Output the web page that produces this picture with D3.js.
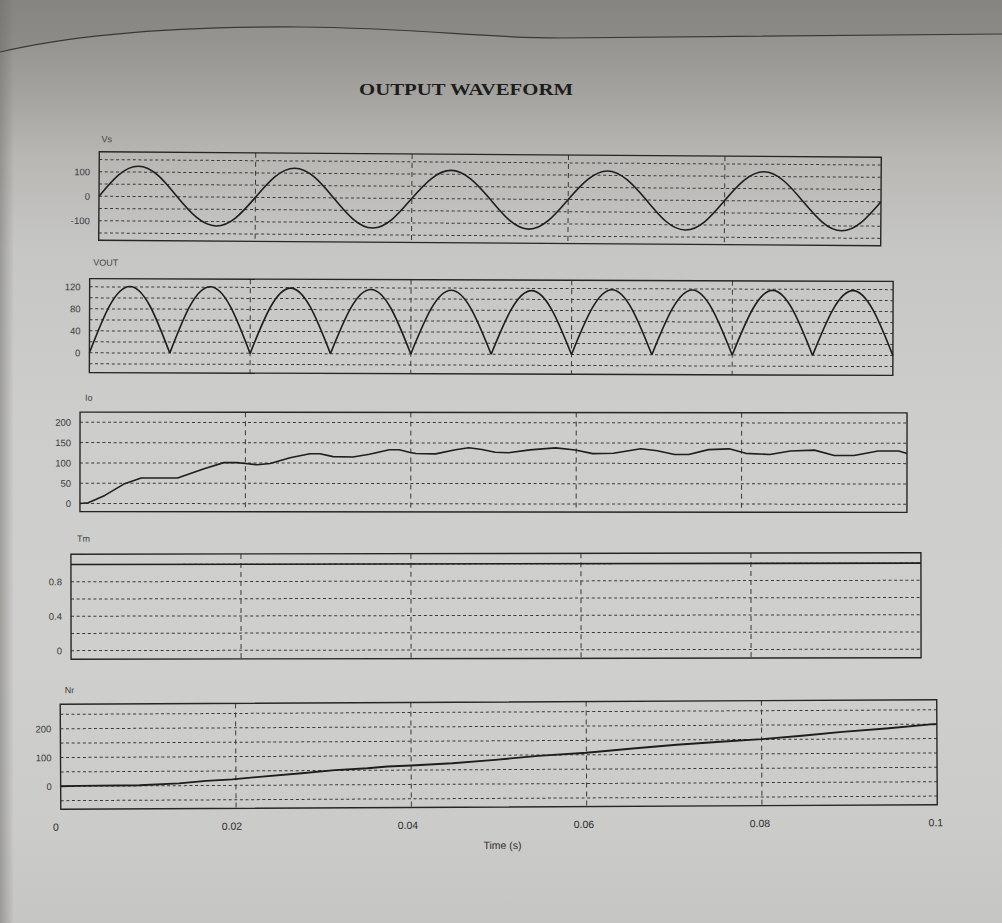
<!DOCTYPE html>
<html><head><meta charset="utf-8">
<script src="https://cdn.jsdelivr.net/npm/d3@7"></script>
<style>html,body{margin:0;padding:0;background:#c8c8c6;overflow:hidden}</style>
</head><body>
<svg id="c" width="1002" height="923"></svg>
<script>
// ---------- DATA (time in ms) ----------
const sineTime = [0,2.5,5,7.5,10,12.5,15,17.5,20,22.5,25,27.5,30,32.5,35,37.5,40,42.5,45,47.5,50,52.5,55,57.5,60,62.5,65,67.5,70,72.5,75,77.5,80,82.5,85,87.5,90,92.5,95,97.5,100];
const vsValues = [0,88,124,88,0,-84,-118,-84,0,85,120,85,0,-86,-122,-86,0,82,116,82,0,-86,-122,-86,0,83,118,83,0,-86,-121,-86,0,84,119,84,0,-85,-120,-85,0];
const voutValues = [0,86,121,86,0,86,121,86,0,84,119,84,0,83,117,83,0,82,116,82,0,82,116,82,0,83,118,83,0,83,118,83,0,83,118,83,0,83,118,83,0];
const ioTime = [0,1,3,5.4,7.4,11.8,15,17.4,19,20,21.4,23,25.4,27.8,29,30.6,33,35,37.4,38.6,39.8,40.6,43,45.4,47,48.6,50.2,51.8,54.4,57.5,59.9,62,64.5,67.8,69.8,71.9,73.6,76,78.5,80.5,83.4,85.9,88.8,91.2,93.6,96.5,99,100];
const ioValues = [0,2,20,49,63,63,86,101,101,99,96,99,113,123,123,116,115,122,133,133,127,124,123,133,138,134,127,126,133,138,133,124,125,136,131,122,122,134,136,125,122,131,133,120,120,131,131,125];
const tmTime = [0,100];
const tmValues = [1,1];
const nrTime = [0,2,9,13.5,16.6,19.6,23,27.5,31.3,35,37.3,40,44.7,49.6,54.5,60,65.3,70.3,75.3,80,84.6,89.2,94.2,99.6,100];
const nrValues = [0,1,2,8,16,21,30,41,51,57,63,66,73,84,97,107,121,133,143,151,162,175,186,200,200];

const vsTicks = [-100,0,100];
const voutTicks = [0,40,80,120];
const ioTicks = [0,50,100,150,200];
const tmTicks = [0,0.4,0.8];
const nrTicks = [0,100,200];
const timeTicks = [0,0.02,0.04,0.06,0.08,0.1];
const vGridTimes = [20,40,60,80];

const vsGrid = [-150,-100,-50,0,50,100,150];
const voutGrid = [-20,0,20,40,60,80,100,120];
const ioGrid = [0,50,100,150,200];
const tmGrid = [0,0.2,0.4,0.6,0.8,1.0];
const nrGrid = [-50,0,50,100,150,200,250];

// ---------- LAYOUT ----------
const svg = d3.select('#c');
const defs = svg.append('defs');
const grad = defs.append('linearGradient').attr('id','bg').attr('x1',0).attr('y1',0).attr('x2',0).attr('y2',1);
[[0,'#8e8c88'],[0.05,'#979591'],[0.1,'#a3a29e'],[0.17,'#b8b7b4'],[0.27,'#c6c6c4'],[0.45,'#cdcdcb'],[0.7,'#cfcfcd'],[0.9,'#cbcbc9'],[1,'#c5c5c3']]
  .forEach(([o,c])=>grad.append('stop').attr('offset',o).attr('stop-color',c));
svg.append('rect').attr('width',1002).attr('height',923).attr('fill','url(#bg)');
// left page shadow
const lg = defs.append('linearGradient').attr('id','lsh').attr('x1',0).attr('y1',0).attr('x2',1).attr('y2',0);
lg.append('stop').attr('offset',0).attr('stop-color','#6f6d6a').attr('stop-opacity',0.5);
lg.append('stop').attr('offset',1).attr('stop-color','#6f6d6a').attr('stop-opacity',0);
svg.append('rect').attr('width',14).attr('height',923).attr('fill','url(#lsh)');
// paper edge at top of photo
svg.append('path').attr('d','M0,52 C60,38 150,26 300,27 C420,28 480,38 560,38 C700,37 850,35 1002,34 L1002,0 L0,0 Z').attr('fill','#6a6865').attr('opacity',0.2);
svg.append('path').attr('d','M0,52 C60,38 150,26 300,27 C420,28 480,38 560,38 C700,37 850,35 1002,34').attr('fill','none').attr('stroke','#3a3836').attr('stroke-width',1.2);

svg.append('text').attr('x',466).attr('y',95).attr('text-anchor','middle')
  .attr('font-family','"Liberation Serif","Times New Roman",serif').attr('font-weight','bold')
  .attr('font-size',17).attr('textLength',214).attr('lengthAdjust','spacingAndGlyphs')
  .attr('fill','#1c1c1c').text('OUTPUT WAVEFORM');

const panels = [
  {name:'Vs', t:sineTime, v:vsValues, ticks:vsTicks, grid:vsGrid, domain:[-180,182], x0:99, x1:881, y0:154.5, y1:243, rot:0.4, lx:101, ly:145, mode:'natural'},
  {name:'VOUT', t:sineTime, v:voutValues, ticks:voutTicks, grid:voutGrid, domain:[-36,135], x0:89.5, x1:893, y0:280, y1:374, rot:0.2, lx:93, ly:267, mode:'segments'},
  {name:'Io', t:ioTime, v:ioValues, ticks:ioTicks, grid:ioGrid, domain:[-20,225], x0:80, x1:907, y0:412.5, y1:512, rot:0.05, lx:85, ly:401, mode:'linear'},
  {name:'Tm', t:tmTime, v:tmValues, ticks:tmTicks, grid:tmGrid, domain:[-0.1,1.12], x0:71, x1:921, y0:553.5, y1:658.5, rot:-0.1, lx:77, ly:541, mode:'linear'},
  {name:'Nr', t:nrTime, v:nrValues, ticks:nrTicks, grid:nrGrid, domain:[-80,285], x0:60.5, x1:937, y0:702, y1:807, rot:-0.3, lx:65, ly:691, mode:'linear'}
];

const sans = '"Liberation Sans",Arial,sans-serif';
let lastGroup = null;
panels.forEach(p=>{
  const cx=(p.x0+p.x1)/2, cy=(p.y0+p.y1)/2;
  const g = svg.append('g').attr('transform',`rotate(${p.rot},${cx},${cy})`);
  const x = d3.scaleLinear().domain([0,100]).range([p.x0,p.x1]);
  const y = d3.scaleLinear().domain(p.domain).range([p.y1,p.y0]);
  g.selectAll('line.hg').data(p.grid).join('line').attr('class','hg')
    .attr('x1',p.x0).attr('x2',p.x1).attr('y1',d=>y(d)).attr('y2',d=>y(d))
    .attr('stroke','#3a3a3a').attr('stroke-width',1).attr('stroke-dasharray','3,2.6');
  g.selectAll('line.vg').data(vGridTimes).join('line').attr('class','vg')
    .attr('x1',d=>x(d)).attr('x2',d=>x(d)).attr('y1',p.y0).attr('y2',p.y1)
    .attr('stroke','#3a3a3a').attr('stroke-width',1).attr('stroke-dasharray','5,4');
  const ax = d3.axisLeft(y).tickValues(p.ticks).tickSize(0).tickPadding(9).tickFormat(d=>String(d));
  const ag = g.append('g').attr('transform',`translate(${p.x0},0)`).call(ax);
  ag.select('.domain').remove();
  ag.selectAll('text').attr('font-family',sans).attr('font-size',9.5).attr('fill','#3a3a3a');
  const pts = p.t.map((t,i)=>[t,p.v[i]]);
  const line = d3.line().x(d=>x(d[0])).y(d=>y(d[1]));
  let segs;
  if(p.mode==='segments'){
    segs=[]; let cur=[];
    pts.forEach(d=>{cur.push(d); if(d[1]===0 && cur.length>1){segs.push(cur); cur=[d];}});
    if(cur.length>1) segs.push(cur);
    line.curve(d3.curveNatural);
  } else {
    segs=[pts];
    if(p.mode==='natural') line.curve(d3.curveNatural);
  }
  g.selectAll('path.s').data(segs).join('path').attr('class','s').attr('d',line)
    .attr('fill','none').attr('stroke','#1e1e1e').attr('stroke-width',p.name==='Nr'?1.9:1.6).attr('stroke-linejoin','round');
  g.append('rect').attr('x',p.x0).attr('y',p.y0).attr('width',p.x1-p.x0).attr('height',p.y1-p.y0)
    .attr('fill','none').attr('stroke','#262626').attr('stroke-width',1.4);
  g.append('text').attr('x',p.lx).attr('y',p.ly).attr('font-family',sans).attr('font-size',9)
    .attr('fill','#444').text(p.name);
  lastGroup = {g, p};
});

const tx = d3.scaleLinear().domain([0,0.1]).range([55,935]);
const bx = d3.axisBottom(tx).tickValues(timeTicks).tickSize(0).tickPadding(6).tickFormat(d=>String(d));
const bg = lastGroup.g.append('g').attr('transform','translate(0,815)').call(bx);
bg.select('.domain').remove();
bg.selectAll('text').attr('font-family',sans).attr('font-size',10.5).attr('fill','#2e2e2e');
lastGroup.g.append('text').attr('x',502).attr('y',849).attr('text-anchor','middle')
  .attr('font-family',sans).attr('font-size',10.5).attr('fill','#2e2e2e').text('Time (s)');
</script>
</body></html>
